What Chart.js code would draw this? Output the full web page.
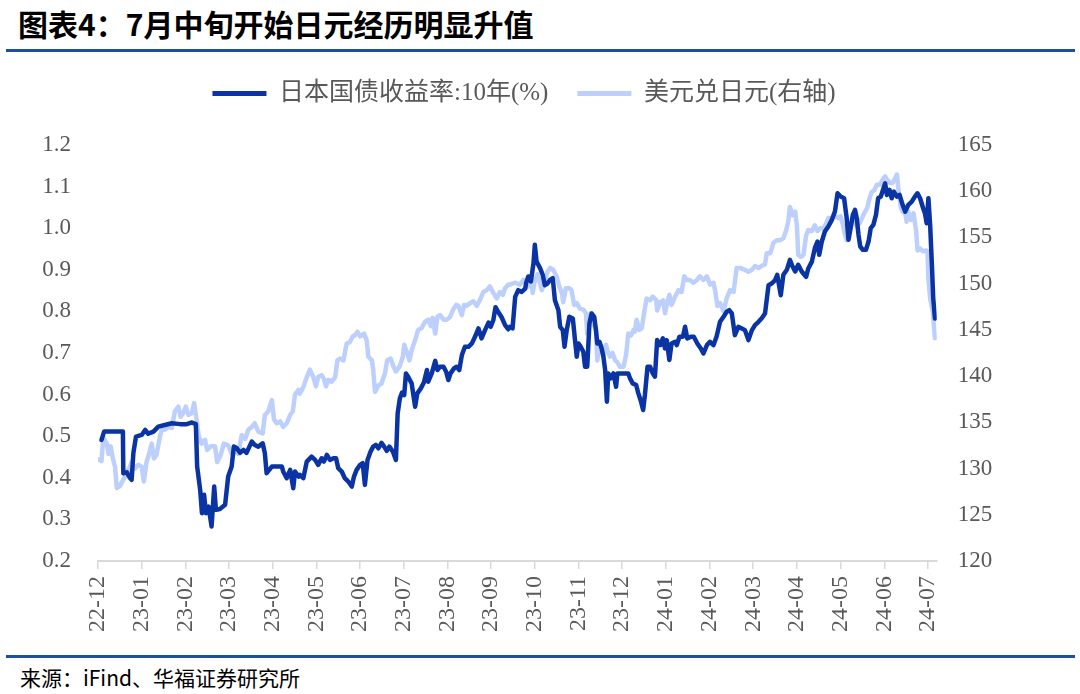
<!DOCTYPE html>
<html lang="zh-CN">
<head>
<meta charset="utf-8">
<title>7月中旬开始日元经历明显升值</title>
<script src="https://cdn.jsdelivr.net/npm/chart.js@4.4.1/dist/chart.umd.min.js"></script>
<style>
  html, body { margin: 0; padding: 0; background: #fff; }
  body { width: 1080px; height: 694px; position: relative; overflow: hidden; font-family: 'Noto Sans CJK SC', sans-serif; }
  #title { position: absolute; left: 18px; top: 3px; font-size: 30px; font-weight: 700; line-height: 40px; color: #000; white-space: nowrap; }
  .rule { position: absolute; left: 6px; width: 1069px; height: 3px; background: #1f4e9e; }
  #source { position: absolute; left: 20px; top: 663px; font-size: 21px; line-height: 28px; color: #000; }
  #wrap { position: absolute; left: 0; top: 52px; width: 1080px; height: 598px; }
</style>
</head>
<body>
<div id="title">图表4：7月中旬开始日元经历明显升值</div>
<div class="rule" style="top:49px"></div>
<div id="wrap"><canvas id="myChart" width="1080" height="598"></canvas></div>
<div class="rule" style="top:655px"></div>
<div id="source">来源：iFind、华福证券研究所</div>
<script>
// x = months after the 22-12 tick (one unit per month label)
const tickLabels = ['22-12','23-01','23-02','23-03','23-04','23-05','23-06','23-07','23-08','23-09',
                    '23-10','23-11','23-12','24-01','24-02','24-03','24-04','24-05','24-06','24-07'];

// 日本国债收益率:10年(%)
const jgbX = [0.08,0.14,0.57,0.58,0.66,0.73,0.77,0.81,0.87,1.00,1.08,1.15,1.27,1.38,1.53,1.69,1.88,2.03,2.15,2.24,
  2.27,2.34,2.38,2.43,2.47,2.53,2.60,2.66,2.70,2.79,2.91,2.98,3.06,3.11,3.18,3.25,3.33,3.40,3.52,3.59,
  3.67,3.77,3.82,3.86,3.98,4.21,4.24,4.32,4.40,4.47,4.51,4.59,
  4.62,4.70,4.78,4.89,4.97,5.04,5.12,5.17,5.24,5.31,5.39,5.45,5.50,5.58,5.65,5.73,5.81,5.86,5.92,6.00,
  6.06,6.11,6.17,6.24,6.30,6.36,6.42,6.49,6.55,6.61,6.67,6.75,6.82,6.86,6.91,6.96,7.01,7.05,7.10,7.18,
  7.26,7.31,7.39,7.46,7.53,7.56,7.64,7.72,7.77,7.83,7.91,7.97,8.02,8.07,8.15,8.21,8.27,8.33,8.40,8.48,
  8.56,8.63,8.71,8.78,8.86,8.94,8.99,9.05,9.10,9.16,9.24,9.32,9.39,
  9.43,9.49,9.55,9.62,9.70,9.78,9.80,9.85,9.91,9.97,10.00,10.04,10.12,10.18,10.23,10.29,10.35,10.41,10.46,10.54,
  10.58,10.64,10.68,10.73,10.79,10.87,10.92,10.96,11.00,11.05,11.11,11.15,11.20,11.25,11.30,11.36,11.40,11.43,11.48,11.53,
  11.57,11.61,11.65,11.68,11.74,11.80,11.86,11.89,11.97,12.07,12.14,12.18,12.24,12.32,12.37,12.42,12.48,12.52,12.58,12.64,
  12.70,12.75,12.80,12.87,12.93,12.98,13.02,13.08,13.13,13.21,13.25,13.31,13.39,13.44,13.49,13.57,13.64,13.72,13.80,13.86,
  13.94,14.01,14.09,14.16,
  14.24,14.32,14.39,14.45,14.51,14.58,14.66,14.74,14.81,14.89,14.97,15.04,15.12,15.19,15.27,15.35,15.42,15.50,15.55,15.63,
  15.69,15.77,15.84,15.90,15.96,16.03,16.11,16.21,16.26,16.34,16.41,16.47,16.51,16.57,16.64,16.72,16.80,16.87,16.93,17.00,
  17.08,17.14,17.18,17.23,17.28,17.33,17.37,17.41,17.45,17.51,17.58,17.64,17.69,17.75,17.81,17.86,17.92,17.97,18.02,18.06,
  18.12,18.17,18.22,18.29,18.35,18.42,18.48,18.55,18.63,18.70,18.76,18.82,18.89,18.93,18.97,19.01,19.05,19.09,19.12,19.16];
const jgbY = [0.491,0.511,0.511,0.411,0.413,0.400,0.395,0.460,0.499,0.503,0.515,0.506,0.511,0.523,0.527,0.531,0.529,0.529,0.533,0.529,
  0.427,0.370,0.315,0.359,0.315,0.331,0.283,0.379,0.323,0.325,0.335,0.403,0.427,0.475,0.471,0.460,0.467,0.460,0.487,0.479,
  0.475,0.483,0.459,0.411,0.427,0.427,0.415,0.399,0.419,0.375,0.415,0.403,
  0.407,0.399,0.439,0.451,0.443,0.431,0.447,0.439,0.455,0.443,0.447,0.447,0.423,0.415,0.399,0.391,0.379,0.403,0.419,0.431,
  0.435,0.383,0.443,0.463,0.475,0.479,0.471,0.484,0.475,0.465,0.475,0.463,0.443,0.555,0.591,0.605,0.599,0.651,0.643,0.627,
  0.571,0.603,0.615,0.629,0.659,0.631,0.651,0.681,0.659,0.667,0.667,0.655,0.635,0.651,0.663,0.667,0.659,0.695,0.715,0.715,
  0.723,0.739,0.759,0.735,0.755,0.773,0.763,0.779,0.810,0.799,0.786,0.767,0.757,
  0.763,0.759,0.835,0.851,0.847,0.855,0.868,0.884,0.872,0.916,0.960,0.920,0.904,0.888,0.863,0.867,0.876,0.880,0.827,0.803,
  0.763,0.755,0.715,0.755,0.787,0.783,0.731,0.691,0.723,0.715,0.703,0.667,0.667,0.771,0.795,0.787,0.755,0.723,0.727,0.711,
  0.691,0.659,0.583,0.651,0.639,0.651,0.619,0.651,0.651,0.651,0.651,0.639,0.627,0.623,0.603,0.587,0.563,0.599,0.667,0.667,
  0.651,0.643,0.731,0.719,0.735,0.711,0.731,0.683,0.723,0.727,0.719,0.739,0.739,0.763,0.735,0.739,0.739,0.723,0.711,0.699,
  0.719,0.727,0.719,0.739,
  0.775,0.787,0.799,0.803,0.795,0.743,0.763,0.759,0.755,0.731,0.755,0.767,0.775,0.783,0.795,0.863,0.867,0.875,0.888,0.839,
  0.888,0.900,0.924,0.908,0.896,0.912,0.896,0.883,0.903,0.919,0.952,0.968,0.936,0.968,0.992,1.004,1.020,1.040,1.084,1.076,
  1.072,1.024,0.972,1.000,1.032,1.044,1.024,0.984,0.956,0.948,0.948,0.968,1.000,1.008,1.032,1.072,1.076,1.092,1.108,1.080,
  1.092,1.072,1.088,1.076,1.080,1.056,1.040,1.056,1.064,1.076,1.084,1.072,1.048,1.036,1.012,1.072,1.008,0.912,0.832,0.783];

// 美元兑日元(右轴)
const fxX = [0.01,0.08,0.12,0.20,0.24,0.29,0.34,0.39,0.43,0.50,0.58,0.66,0.73,0.77,0.85,0.92,1.00,1.05,1.11,1.17,
  1.23,1.28,1.34,1.42,1.46,1.53,1.61,1.69,1.76,1.84,1.89,1.95,2.01,2.07,2.15,2.20,2.26,2.30,2.37,2.45,
  2.50,2.58,2.68,2.73,2.81,2.88,2.98,3.06,3.14,3.21,3.29,3.37,3.44,3.52,3.59,3.67,3.77,3.82,3.90,3.98,
  4.03,4.09,4.17,4.24,4.32,4.40,4.46,4.51,4.59,
  4.62,4.70,4.78,4.85,4.93,4.99,5.04,5.12,5.17,5.22,5.27,5.35,5.43,5.48,5.54,5.62,5.69,5.77,5.83,5.88,
  5.94,6.00,6.09,6.15,6.19,6.27,6.30,6.34,6.42,6.49,6.57,6.62,6.70,6.76,6.82,6.90,6.98,7.01,7.07,7.13,
  7.18,7.26,7.33,7.41,7.49,7.56,7.62,7.66,7.72,7.77,7.83,7.91,7.98,8.06,8.13,8.20,8.25,8.33,8.38,8.44,
  8.52,8.59,8.67,8.75,8.82,8.90,8.97,9.05,9.13,9.20,9.27,9.32,9.39,
  9.43,9.55,9.66,9.74,9.81,9.85,9.91,9.95,10.00,10.06,10.10,10.16,10.23,10.29,10.35,10.42,10.50,10.56,10.62,10.65,
  10.71,10.79,10.84,10.90,10.96,11.03,11.11,11.17,11.20,11.25,11.28,11.34,11.40,11.43,11.48,11.53,11.57,11.63,11.66,11.72,
  11.78,11.84,11.89,11.95,12.03,12.09,12.14,12.20,12.26,12.29,12.33,12.39,12.45,12.50,12.56,12.64,12.70,12.78,12.80,12.87,
  12.94,12.98,13.02,13.08,13.13,13.21,13.29,13.36,13.42,13.48,13.55,13.63,13.71,13.78,13.86,13.94,14.01,14.09,14.13,14.18,
  14.24,14.32,14.39,14.47,14.55,14.62,14.70,14.81,14.89,14.97,15.04,15.12,15.19,15.27,15.31,15.39,15.46,15.54,15.61,15.69,
  15.75,15.80,15.84,15.90,15.96,16.00,16.03,16.09,16.15,16.21,16.26,16.34,16.41,16.47,16.53,16.61,16.67,16.72,16.80,16.87,
  16.95,17.00,17.05,17.10,17.14,17.20,17.26,17.31,17.37,17.43,17.51,17.56,17.61,17.66,17.71,17.77,17.83,17.90,17.98,18.02,
  18.07,18.13,18.19,18.25,18.29,18.32,18.35,18.38,18.42,18.48,18.51,18.55,18.61,18.67,18.73,18.76,18.82,18.89,18.96,18.99,
  19.01,19.05,19.11,19.16];
const fxY = [131.0,130.8,133.4,132.7,131.6,132.4,131.1,130.2,127.9,128.1,128.8,129.5,130.2,130.7,130.0,130.4,130.2,128.6,130.7,131.6,
  132.7,131.1,131.5,133.5,134.2,134.2,134.5,134.4,136.2,136.7,135.6,136.0,136.7,135.8,136.0,137.1,135.2,133.6,132.7,133.1,
  132.0,132.4,132.4,130.7,131.5,132.7,132.5,131.6,132.0,131.6,133.6,133.2,134.2,134.5,134.9,134.0,133.8,135.8,136.2,137.4,
  135.3,134.9,135.1,134.5,134.9,135.8,136.2,138.0,138.5,
  138.1,138.8,139.9,140.7,139.9,138.9,139.9,140.1,139.7,138.9,139.6,139.4,139.9,141.7,141.9,141.7,143.5,143.7,144.3,144.4,
  144.8,144.3,144.6,143.9,142.1,141.7,140.7,138.3,139.0,139.2,140.3,141.7,141.9,141.1,140.5,141.0,142.1,143.4,142.6,141.7,
  142.8,143.9,145.0,145.2,145.9,146.1,145.4,146.3,144.6,146.4,146.6,146.1,146.1,146.4,147.2,147.7,147.6,146.6,147.7,147.6,
  147.9,148.1,147.6,148.3,149.1,149.3,149.7,149.0,148.4,149.1,148.8,149.5,149.9,
  149.9,150.1,149.9,150.4,150.1,149.7,150.4,149.0,150.3,151.0,150.4,149.3,150.3,151.3,151.7,151.5,150.8,149.7,149.0,148.0,
  149.5,149.5,149.3,147.7,147.9,147.3,147.2,146.8,144.6,146.1,146.8,145.6,145.0,141.7,143.5,143.2,142.1,143.4,142.8,142.1,
  142.5,141.7,141.5,141.0,141.0,142.3,144.6,144.4,145.0,144.8,146.1,145.0,145.2,146.8,148.4,148.2,148.6,148.2,147.1,148.0,
  148.2,146.8,147.7,148.8,147.7,148.6,149.3,149.1,150.8,150.4,150.4,150.1,150.4,150.8,150.4,150.8,149.9,150.1,149.2,147.6,
  147.9,147.0,148.4,149.3,149.1,151.7,151.7,151.5,151.3,151.5,151.9,151.7,151.9,152.1,153.3,153.3,154.4,154.7,154.7,154.9,
  155.7,156.7,158.3,157.4,157.8,156.3,153.1,152.9,153.1,155.2,155.8,155.7,156.3,155.7,156.0,156.0,156.5,157.1,157.1,157.3,
  157.1,157.3,156.4,155.3,154.7,156.3,156.5,156.7,156.2,156.5,157.3,157.8,158.2,159.2,159.9,160.1,160.7,160.7,161.4,161.6,
  161.2,160.9,160.9,161.4,161.8,160.4,159.2,158.2,157.8,157.6,156.7,157.8,156.9,157.6,155.7,153.6,153.8,153.5,153.6,153.5,
  150.6,148.4,147.0,144.1];

const toPoints = (xs, ys) => xs.map((x, i) => ({x: x, y: ys[i]}));

const tickFont = {family: "'Liberation Serif', 'Times New Roman', serif", size: 23};
const tickColor = '#595959';

// make room between the legend and the plot
const legendGap = {
    id: 'legendGap',
    beforeInit(chart) {
        const fit = chart.legend.fit;
        chart.legend.fit = function() {
            fit.bind(chart.legend)();
            this.height += 29;
        };
    }
};

const data = {
    datasets: [{
        label: '日本国债收益率:10年(%)',
        data: toPoints(jgbX, jgbY),
        yAxisID: 'y',
        borderColor: '#0a34a3',
        backgroundColor: '#0a34a3',
        borderWidth: 4.5
    }, {
        label: '美元兑日元(右轴)',
        data: toPoints(fxX, fxY),
        yAxisID: 'y1',
        borderColor: '#bccffd',
        backgroundColor: '#bccffd',
        borderWidth: 4.5
    }]
};

const config = {
    type: 'line',
    data: data,
    options: {
        responsive: false,
        animation: false,
        layout: {padding: {top: 0, right: 32, bottom: 0, left: 0}},
        elements: {
            point: {radius: 0, hoverRadius: 0},
            line: {tension: 0, borderJoinStyle: 'round', borderCapStyle: 'round'}
        },
        scales: {
            x: {
                type: 'linear',
                min: 0,
                max: 19.2,
                afterBuildTicks(scale) {
                    scale.ticks = tickLabels.map((_, i) => ({value: i}));
                },
                afterFit(scale) {
                    scale.height = 89;
                },
                ticks: {
                    autoSkip: false,
                    minRotation: 90,
                    maxRotation: 90,
                    padding: 7,
                    color: tickColor,
                    font: {family: tickFont.family, size: 24},
                    callback: value => tickLabels[value]
                },
                grid: {
                    drawOnChartArea: false,
                    tickLength: 8,
                    color: '#d9d9d9',
                    lineWidth: 1.5
                },
                border: {color: '#d9d9d9', width: 2}
            },
            y: {
                position: 'left',
                min: 0.2,
                max: 1.2,
                afterFit(scale) {
                    scale.width = 98;
                },
                ticks: {
                    stepSize: 0.1,
                    padding: 27,
                    color: tickColor,
                    font: tickFont,
                    callback: value => value.toFixed(1)
                },
                grid: {display: false, drawTicks: false},
                border: {display: false}
            },
            y1: {
                position: 'right',
                min: 120,
                max: 165,
                afterFit(scale) {
                    scale.width = 111.3;
                },
                ticks: {
                    stepSize: 5,
                    padding: 21,
                    color: tickColor,
                    font: tickFont
                },
                grid: {display: false, drawTicks: false},
                border: {display: false}
            }
        },
        plugins: {
            legend: {
                position: 'top',
                labels: {
                    boxWidth: 54,
                    boxHeight: 5,
                    padding: 29,
                    color: tickColor,
                    font: {family: "'Liberation Serif', 'Noto Sans CJK SC', serif", size: 25},
                    generateLabels(chart) {
                        return Chart.defaults.plugins.legend.labels.generateLabels(chart)
                            .map(item => ({...item, fillStyle: item.strokeStyle, lineWidth: 0}));
                    }
                }
            },
            tooltip: {enabled: false}
        }
    },
    plugins: [legendGap]
};

const myChart = document.getElementById('myChart');
const chart = new Chart(myChart, config);
</script>
</body>
</html>
